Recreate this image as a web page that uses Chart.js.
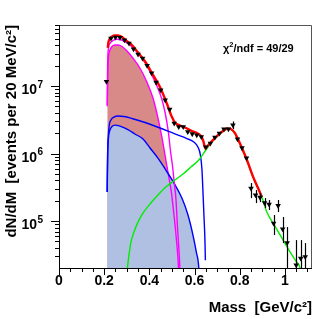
<!DOCTYPE html>
<html>
<head>
<meta charset="utf-8">
<script src="https://cdn.jsdelivr.net/npm/chart.js@4.4.1/dist/chart.umd.min.js"></script>
<style>
  html, body { margin: 0; padding: 0; background: #fff; }
  #wrap { width: 332px; height: 319px; }
</style>
</head>
<body>
<div id="wrap"><canvas id="massChart" width="332" height="319"></canvas></div>
<script>
// data points, 20 MeV bins
const binMass = [0.21, 0.23, 0.25, 0.27, 0.29, 0.31, 0.33, 0.35, 0.37, 0.39, 0.41, 0.43, 0.45, 0.47, 0.49,
    0.51, 0.53, 0.55, 0.57, 0.59, 0.61, 0.63, 0.65, 0.67, 0.69, 0.71, 0.73, 0.75, 0.77, 0.79, 0.81, 0.83,
    0.85, 0.87, 0.89, 0.91, 0.93, 0.95, 0.97, 0.99, 1.01, 1.05, 1.07, 1.09];
const binCounts = [1.16e7, 5.09e7, 5.26e7, 5.20e7, 4.80e7, 4.29e7, 3.53e7, 2.95e7, 2.57e7, 2.01e7, 1.56e7,
    1.13e7, 8.72e6, 6.21e6, 4.52e6, 2.80e6, 2.49e6, 2.49e6, 2.10e6, 1.95e6, 1.88e6, 1.77e6, 1.25e6, 1.42e6,
    1.74e6, 1.99e6, 2.31e6, 2.31e6, 2.64e6, 1.64e6, 1.21e6, 8.58e5, 3.05e5, 2.43e5, 2.24e5, 1.87e5, 1.77e5,
    9.25e4, 1.69e5, 7.61e4, 4.77e4, 2.23e4, 2.80e4, 2.96e4];

// visible error bars only
const errMass = [0.77, 0.85, 0.87, 0.89, 0.91, 0.93, 0.95, 0.97, 0.99, 1.01, 1.05, 1.07, 1.09];
const errUp = [2.99e6, 3.66e5, 2.88e5, 2.60e5, 2.19e5, 2.05e5, 1.23e5, 2.05e5, 1.15e5, 8.15e4, 5.23e4, 5.23e4, 4.72e4];
const errDown = [2.31e6, 2.19e5, 1.85e5, 1.91e5, 1.56e5, 1.46e5, 6.21e4, 1.36e5, 4.72e4, 1.0e4, 1.0e4, 1.0e4, 1.0e4];

// total fit (red)
const fitMass = [0.216, 0.219, 0.226, 0.2345, 0.248, 0.261, 0.279, 0.2965, 0.323, 0.350, 0.381, 0.416, 0.447,
    0.4765, 0.499, 0.513, 0.535, 0.562, 0.584, 0.611, 0.628, 0.639, 0.648, 0.657, 0.677, 0.704, 0.726, 0.746,
    0.761, 0.779, 0.792, 0.810, 0.832, 0.858, 0.881, 0.898];
const fitTotal = [3.66e7, 4.49e7, 5.06e7, 5.41e7, 5.60e7, 5.60e7, 5.32e7, 4.72e7, 4.05e7, 3.13e7, 2.31e7, 1.46e7,
    9.66e6, 5.60e6, 3.53e6, 2.88e6, 2.60e6, 2.39e6, 2.19e6, 2.01e6, 1.82e6, 1.53e6, 1.19e6, 1.29e6, 1.53e6,
    1.88e6, 2.15e6, 2.35e6, 2.31e6, 2.01e6, 1.64e6, 1.21e6, 8.02e5, 4.64e5, 3.08e5, 2.27e5];

// magenta, filled (red area)
const etaMass = [0.2137, 0.2150, 0.2160, 0.219, 0.2257, 0.2345, 0.248, 0.261, 0.279, 0.301, 0.327, 0.358, 0.389,
    0.416, 0.438, 0.456, 0.473, 0.487, 0.498, 0.509, 0.520, 0.529, 0.531];
const etaFilled = [5.0e6, 1.0e7, 1.46e7, 2.69e7, 3.41e7, 3.85e7, 4.05e7, 4.05e7, 3.85e7, 3.30e7, 2.60e7, 1.85e7,
    1.15e7, 6.64e6, 3.36e6, 1.70e6, 8.02e5, 4.34e5, 2.60e5, 1.23e5, 5.23e4, 2.01e4, 1.2e4];

// magenta, outline only
const etaAllMass = [0.2137, 0.2150, 0.218, 0.2257, 0.2376, 0.2553, 0.2774, 0.314, 0.344, 0.373, 0.403, 0.432,
    0.454, 0.469, 0.484, 0.494, 0.502, 0.509, 0.518, 0.524, 0.531, 0.535, 0.537];
const etaAll = [5.2e6, 1.73e7, 3.41e7, 4.29e7, 4.69e7, 4.92e7, 4.80e7, 4.05e7, 3.22e7, 2.43e7, 1.63e7, 1.03e7,
    6.57e6, 4.16e6, 2.10e6, 1.06e6, 6.76e5, 4.05e5, 2.05e5, 8.73e4, 3.72e4, 2.01e4, 1.2e4];

// blue, filled
const omegaMass = [0.2133, 0.2146, 0.219, 0.2257, 0.2345, 0.248, 0.270, 0.305, 0.336, 0.372, 0.403, 0.438, 0.473,
    0.509, 0.544, 0.571, 0.593, 0.608, 0.619, 0.622];
const omegaFilled = [2.69e5, 8.02e5, 1.70e6, 2.23e6, 2.51e6, 2.64e6, 2.55e6, 2.27e6, 1.95e6, 1.64e6, 1.21e6,
    8.58e5, 5.70e5, 3.66e5, 2.19e5, 1.23e5, 6.21e4, 3.47e4, 2.01e4, 1.2e4];

// blue, outline only
const omegaAllMass = [0.2133, 0.216, 0.2212, 0.230, 0.2434, 0.261, 0.2876, 0.323, 0.381, 0.447, 0.513, 0.566,
    0.597, 0.615, 0.626, 0.633, 0.637, 0.6416, 0.646, 0.648];
const omegaAll = [2.69e5, 1.13e6, 2.39e6, 3.13e6, 3.47e6, 3.59e6, 3.53e6, 3.30e6, 2.88e6, 2.39e6, 1.95e6, 1.67e6,
    1.48e6, 1.25e6, 9.50e5, 5.70e5, 2.88e5, 1.23e5, 5.23e4, 2.64e4];

// green
const rhoMass = [0.301, 0.3097, 0.3186, 0.3319, 0.3496, 0.3717, 0.4027, 0.438, 0.473, 0.513, 0.549, 0.584, 0.619,
    0.650, 0.677, 0.704, 0.726, 0.746, 0.761, 0.779, 0.792, 0.810, 0.832, 0.858, 0.881, 0.898, 0.920, 0.956,
    0.987, 1.018, 1.049, 1.066, 1.072];
const rhoCurve = [1.8e4, 3.13e4, 4.89e4, 6.87e4, 9.66e4, 1.31e5, 1.79e5, 2.43e5, 3.19e5, 4.05e5, 4.97e5, 6.31e5,
    8.02e5, 1.13e6, 1.48e6, 1.85e6, 2.12e6, 2.31e6, 2.27e6, 1.98e6, 1.61e6, 1.19e6, 7.87e5, 4.56e5, 3.08e5,
    2.27e5, 1.36e5, 8.43e4, 5.60e4, 3.72e4, 2.55e4, 2.08e4, 1.6e4];

const xTickLabels = ["0", "0.2", "0.4", "0.6", "0.8", "1"];
const yPowers = [5, 6, 7];

const fontFamily = "'Liberation Sans', Arial, Helvetica, sans-serif";

const toPoints = (xs, ys) => xs.map((x, i) => ({ x: x, y: ys[i] }));

const curve = (xs, ys, color, width, order, fillColor) => ({
    data: toPoints(xs, ys),
    borderColor: color,
    borderWidth: width,
    pointRadius: 0,
    cubicInterpolationMode: "monotone",
    order: order,
    fill: fillColor ? "start" : false,
    backgroundColor: fillColor || "transparent",
});

// frame, tick marks, power-of-ten labels, error bars, chi2 text
const axisDecor = {
    id: "axisDecor",
    afterDatasetsDraw(chart) {
        const { ctx, chartArea: area, scales } = chart;
        ctx.save();
        ctx.beginPath();
        ctx.rect(area.left, area.top, area.right - area.left, area.bottom - area.top);
        ctx.clip();
        ctx.strokeStyle = "#000";
        ctx.lineWidth = 1.2;
        errMass.forEach((m, i) => {
            const px = Math.round(scales.x.getPixelForValue(m)) + 0.5;
            ctx.beginPath();
            ctx.moveTo(px, scales.y.getPixelForValue(errUp[i]));
            ctx.lineTo(px, scales.y.getPixelForValue(errDown[i]));
            ctx.stroke();
        });
        ctx.restore();
    },
    afterDraw(chart) {
        const { ctx, chartArea: area, scales } = chart;
        const xs = scales.x, ys = scales.y;
        ctx.save();
        ctx.lineWidth = 1;
        // top and right edges of the frame
        ctx.strokeStyle = "#555";
        ctx.beginPath();
        ctx.moveTo(area.left, area.top + 0.5);
        ctx.lineTo(area.right - 0.5, area.top + 0.5);
        ctx.lineTo(area.right - 0.5, area.bottom);
        ctx.stroke();
        // axes
        ctx.strokeStyle = "#000";
        ctx.beginPath();
        ctx.moveTo(area.left + 0.5, area.top);
        ctx.lineTo(area.left + 0.5, area.bottom + 0.5);
        ctx.lineTo(area.right, area.bottom + 0.5);
        ctx.stroke();

        // x ticks every 0.05, longer on the labelled ones
        ctx.beginPath();
        for (let i = 0; i * 0.05 <= xs.max + 1e-9; i++) {
            const px = Math.round(xs.getPixelForValue(i * 0.05)) + 0.5;
            const len = i % 4 === 0 ? 7 : 4;
            ctx.moveTo(px, area.bottom);
            ctx.lineTo(px, area.bottom + len);
        }
        // y ticks at k * 10^n
        for (let e = 4; e <= 7; e++) {
            for (let k = 1; k <= 9; k++) {
                const v = k * Math.pow(10, e);
                if (v < ys.min || v > ys.max) continue;
                const py = Math.round(ys.getPixelForValue(v)) + 0.5;
                const len = k === 1 ? 8 : 4;
                ctx.moveTo(area.left - len, py);
                ctx.lineTo(area.left, py);
            }
        }
        ctx.stroke();

        // y labels 10^n
        ctx.fillStyle = "#000";
        ctx.textBaseline = "alphabetic";
        yPowers.forEach((p) => {
            const py = ys.getPixelForValue(Math.pow(10, p));
            ctx.font = "bold 14px " + fontFamily;
            ctx.textAlign = "right";
            ctx.fillText("10", 37, py + 8);
            ctx.font = "bold 10px " + fontFamily;
            ctx.textAlign = "left";
            ctx.fillText(String(p), 37.5, py + 1.5);
        });

        // chi2 / ndf
        let tx = 223;
        ctx.textAlign = "left";
        ctx.font = "bold 11px " + fontFamily;
        ctx.fillText("χ", tx, 51.5);
        tx += ctx.measureText("χ").width;
        ctx.font = "bold 7.5px " + fontFamily;
        ctx.fillText("2", tx, 46.5);
        tx += ctx.measureText("2").width;
        ctx.font = "bold 11px " + fontFamily;
        ctx.fillText("/ndf = 49/29", tx, 51.5);
        ctx.restore();
    },
};

const ctx = document.getElementById("massChart").getContext("2d");
const massChart = new Chart(ctx, {
    type: "line",
    data: {
        datasets: [
            {
                data: toPoints(binMass, binCounts),
                showLine: false,
                pointStyle: "triangle",
                rotation: 180,
                pointRadius: 3.2,
                pointBackgroundColor: "#000",
                pointBorderColor: "#000",
                pointBorderWidth: 0,
                order: 0,
            },
            curve(fitMass, fitTotal, "#ff0000", 2.4, 1),
            curve(rhoMass, rhoCurve, "#00ee00", 1.4, 2),
            curve(omegaAllMass, omegaAll, "#0000ff", 1.4, 3),
            curve(etaAllMass, etaAll, "#ff00ff", 1.4, 4),
            curve(omegaMass, omegaFilled, "#0000ff", 1.4, 5, "rgb(176,192,226)"),
            curve(etaMass, etaFilled, "#ff00ff", 1.4, 6, "rgb(216,138,136)"),
        ],
    },
    options: {
        responsive: false,
        animation: false,
        devicePixelRatio: 1,
        layout: { padding: { top: 25, right: 20, bottom: 0, left: 0 } },
        plugins: {
            legend: { display: false },
            tooltip: { enabled: false },
            filler: { drawTime: "beforeDatasetsDraw" },
        },
        scales: {
            x: {
                type: "linear",
                min: 0,
                max: 1.12,
                grid: { display: false, drawTicks: false },
                border: { display: false },
                ticks: {
                    stepSize: 0.2,
                    includeBounds: false,
                    padding: 5,
                    color: "#000",
                    font: { family: fontFamily, size: 14, weight: "bold" },
                    callback: (v) => xTickLabels[Math.round(v / 0.2)],
                },
                title: {
                    display: true,
                    text: "Mass  [GeV/c²]",
                    align: "end",
                    color: "#000",
                    font: { family: fontFamily, size: 15, weight: "bold" },
                    padding: { top: 0, bottom: 1.7 },
                },
                afterFit: (scale) => { scale.height = 51; },
            },
            y: {
                type: "logarithmic",
                min: 2.02e4,
                max: 8.01e7,
                grid: { display: false, drawTicks: false },
                border: { display: false },
                ticks: { display: false },
                title: {
                    display: true,
                    text: "dN/dM  [events per 20 MeV/c²]",
                    align: "end",
                    color: "#000",
                    font: { family: fontFamily, size: 15, weight: "bold" },
                    padding: { top: 3.3, bottom: 0 },
                },
                afterFit: (scale) => { scale.width = 59; },
            },
        },
    },
    plugins: [axisDecor],
});
</script>
</body>
</html>
